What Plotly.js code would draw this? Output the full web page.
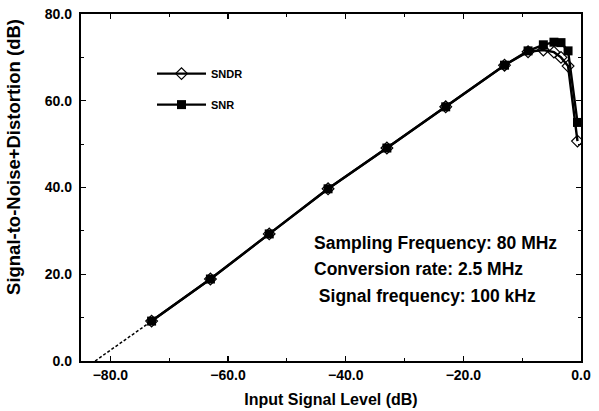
<!DOCTYPE html>
<html>
<head>
<meta charset="utf-8">
<script src="https://cdn.plot.ly/plotly-3.0.1.min.js"></script>
<style>html,body{margin:0;padding:0;background:#fff;}#chart{width:599px;height:411px;}</style>
</head>
<body>
<div id="chart"></div>
<script>
// Input signal level (dB)
const inputLevel = [-73, -63, -53, -43, -33, -23, -13, -9, -6.4, -4.6, -3.4, -2.2, -0.6];
// SNR (dB)
const snr = [9.2, 18.9, 29.3, 39.7, 49.1, 58.6, 68.2, 71.5, 72.9, 73.5, 73.4, 71.5, 55.0];
// SNDR (dB)
const sndr = [9.2, 18.9, 29.3, 39.7, 49.1, 58.6, 68.2, 71.3, 71.7, 71.2, 70.0, 68.0, 50.7];
// Extrapolation (dashed) toward 0 dB
const extrapX = [-82.6, -73];
const extrapY = [0, 9.2];

const xTicks = [-80, -60, -40, -20, 0];
const yTicks = [0, 20, 40, 60, 80];
const notes = ["Sampling Frequency: 80 MHz", "Conversion rate: 2.5 MHz", " Signal frequency: 100 kHz"];

const FONT = "Liberation Sans, Arial, Helvetica, sans-serif";

const traces = [
  {
    x: extrapX, y: extrapY, mode: "lines", showlegend: false,
    line: {color: "#000", width: 1.5, dash: "3px,2px"}, hoverinfo: "skip"
  },
  {
    x: inputLevel, y: sndr, name: "SNDR", mode: "lines+markers", legendgroup: "a",
    line: {color: "#000", width: 2.4},
    marker: {symbol: "diamond-open", size: 9, color: "#000", line: {width: 1.2, color: "#000"}}
  },
  {
    x: inputLevel, y: snr, name: "SNR", mode: "lines+markers", legendgroup: "b",
    line: {color: "#000", width: 2.4},
    marker: {symbol: "square", size: 9, color: "#000"}
  }
];

const annotations = [
  {text: notes[0], x: 0.462, y: 0.340},
  {text: notes[1], x: 0.462, y: 0.265},
  {text: notes[2], x: 0.462, y: 0.187}
].map(a => Object.assign({
  xref: "paper", yref: "paper", xanchor: "left", yanchor: "middle", showarrow: false,
  font: {family: FONT, size: 17.5, color: "#000", weight: "bold"}
}, a));

annotations.push({
  text: "Signal-to-Noise+Distortion (dB)", xref: "paper", yref: "paper",
  x: -0.134, y: 0.588, xanchor: "center", yanchor: "middle", textangle: -90, showarrow: false,
  font: {family: FONT, size: 18.5, color: "#000", weight: "bold"}
});

const axisCommon = {
  showgrid: false, zeroline: false, showline: true, linecolor: "#000", linewidth: 2.2,
  mirror: "allticks", ticks: "inside", ticklen: 5, tickwidth: 1.2, tickcolor: "#000",
  tickformat: ".1f", tickfont: {family: FONT, size: 14, color: "#000", weight: "bold"},
  minor: {ticks: "inside", ticklen: 3, tickwidth: 1, tickcolor: "#000", dtick: 10}
};

const layout = {
  width: 599, height: 411,
  margin: {l: 81, r: 18, t: 14, b: 50},
  paper_bgcolor: "#fff", plot_bgcolor: "#fff",
  showlegend: true,
  legend: {
    x: 0.142, y: 0.87, xanchor: "left", yanchor: "top", itemwidth: 49,
    bgcolor: "rgba(0,0,0,0)", traceorder: "grouped", tracegroupgap: 12,
    font: {family: FONT, size: 11, color: "#000", weight: "bold"}
  },
  xaxis: Object.assign({}, axisCommon, {
    range: [-85, 0], tickvals: xTicks,
    title: {text: "Input Signal Level (dB)", standoff: 12, font: {family: FONT, size: 16, color: "#000", weight: "bold"}}
  }),
  yaxis: Object.assign({}, axisCommon, {
    range: [0, 80], tickvals: yTicks, ticklabelstandoff: 4
  }),
  annotations: annotations
};

Plotly.newPlot("chart", traces, layout, {displayModeBar: false, staticPlot: true});
</script>
</body>
</html>
